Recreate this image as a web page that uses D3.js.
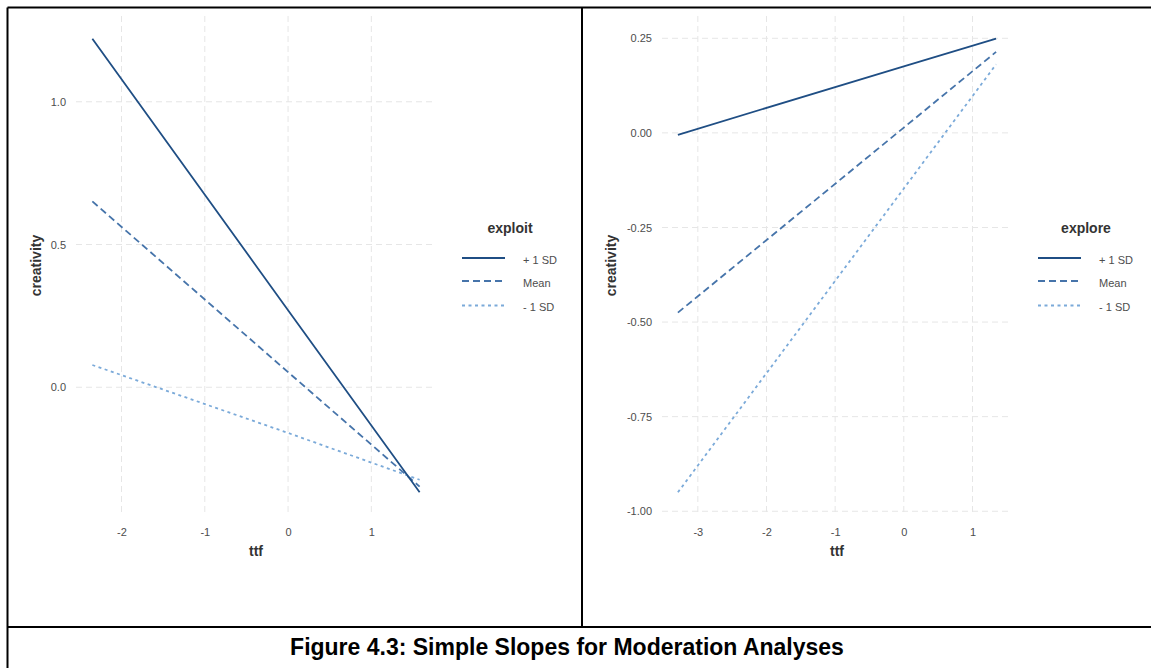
<!DOCTYPE html>
<html>
<head>
<meta charset="utf-8">
<script src="https://cdn.jsdelivr.net/npm/d3@7"></script>
<style>
  html, body { margin: 0; padding: 0; background: #ffffff; }
  svg { display: block; }
  text { font-family: "Liberation Sans", Arial, sans-serif; }
</style>
</head>
<body>
<svg id="chart" width="1151" height="668"></svg>
<script>
// ---------------- DATA ----------------
const seriesLabels = ["+ 1 SD", "Mean", "- 1 SD"];

// Left panel: moderator "exploit"
const exploitTtf   = [-2.35, 0, 1.58];
const exploitPlus  = [1.221, 0.270, -0.368];
const exploitMean  = [0.651, 0.053, -0.348];
const exploitMinus = [0.078, -0.160, -0.324];
const exploitXTicks = [-2, -1, 0, 1];
const exploitYTicks = [0.0, 0.5, 1.0];

// Right panel: moderator "explore"
const exploreTtf   = [-3.29, 0, 1.344];
const explorePlus  = [-0.005, 0.176, 0.249];
const exploreMean  = [-0.475, 0.014, 0.214];
const exploreMinus = [-0.950, -0.147, 0.181];
const exploreXTicks = [-3, -2, -1, 0, 1];
const exploreYTicks = [-1.00, -0.75, -0.50, -0.25, 0.00, 0.25];

const captionText = "Figure 4.3: Simple Slopes for Moderation Analyses";

// ---------------- STYLE ----------------
const lineColors = ["#1F4E84", "#4674AA", "#7BAAD9"];
const lineDashes = [null, "7,4", "3,3.5"];
const gridColor = "#E6E6E6";
const tickColor = "#4D4D4D";
const titleColor = "#333333";

const svg = d3.select("#chart");
svg.append("rect").attr("width", 1151).attr("height", 668).attr("fill", "#fff");

function expand(ext) {
  const r = ext[1] - ext[0];
  return [ext[0] - 0.05 * r, ext[1] + 0.05 * r];
}
function hyphenFmt(spec) {
  const f = d3.format(spec);
  return d => f(d).replace("\u2212", "-");
}

function drawPanel(cfg) {
  const { xs, series, xTicks, yTicks, yFmt, left, right, top, bottom,
          legendTitle, legendCx, keyX0, keyX1, labelX, yTitleX } = cfg;
  const allY = series.flat();
  const x = d3.scaleLinear().domain(expand(d3.extent(xs))).range([left, right]);
  const y = d3.scaleLinear().domain(expand(d3.extent(allY))).range([bottom, top]);
  const g = svg.append("g");

  // grid
  g.selectAll(".gx").data(xTicks).join("line")
    .attr("x1", d => x(d)).attr("x2", d => x(d))
    .attr("y1", top).attr("y2", bottom)
    .attr("stroke", gridColor).attr("stroke-width", 1).attr("stroke-dasharray", "6,4");
  g.selectAll(".gy").data(yTicks).join("line")
    .attr("x1", left).attr("x2", right)
    .attr("y1", d => y(d)).attr("y2", d => y(d))
    .attr("stroke", gridColor).attr("stroke-width", 1).attr("stroke-dasharray", "6,4");

  // axes (labels only, via d3 axis)
  const xAxis = d3.axisBottom(x).tickValues(xTicks).tickSize(0).tickPadding(0)
    .tickFormat(hyphenFmt("d"));
  const gx = g.append("g").attr("transform", `translate(0,${bottom + 13})`).call(xAxis);
  gx.select(".domain").remove();
  gx.selectAll("text").attr("fill", tickColor).attr("font-size", 11)
    .attr("font-family", "Liberation Sans, Arial, sans-serif").attr("dy", "0.35em").attr("y", 4);

  const yAxis = d3.axisLeft(y).tickValues(yTicks).tickSize(0).tickPadding(0)
    .tickFormat(hyphenFmt(yFmt));
  const gy = g.append("g").attr("transform", `translate(${left - 10},0)`).call(yAxis);
  gy.select(".domain").remove();
  gy.selectAll("text").attr("fill", tickColor).attr("font-size", 11)
    .attr("font-family", "Liberation Sans, Arial, sans-serif");

  // axis titles
  g.append("text").attr("x", (left + right) / 2).attr("y", bottom + 41)
    .attr("text-anchor", "middle").attr("font-size", 14).attr("font-weight", "bold")
    .attr("fill", titleColor).text("ttf");
  g.append("text")
    .attr("transform", `translate(${yTitleX},${(top + bottom) / 2}) rotate(-90)`)
    .attr("text-anchor", "middle").attr("font-size", 14).attr("font-weight", "bold")
    .attr("fill", titleColor).text("creativity");

  // lines (draw -1 SD first, +1 SD on top)
  const line = d3.line().x(d => x(d[0])).y(d => y(d[1]));
  [2, 1, 0].forEach(i => {
    g.append("path")
      .datum(xs.map((v, k) => [v, series[i][k]]))
      .attr("d", line)
      .attr("fill", "none")
      .attr("stroke", lineColors[i])
      .attr("stroke-width", 1.8)
      .attr("stroke-dasharray", lineDashes[i]);
  });

  // legend
  const lg = svg.append("g");
  lg.append("text").attr("x", legendCx).attr("y", 233)
    .attr("text-anchor", "middle").attr("font-size", 14).attr("font-weight", "bold")
    .attr("fill", titleColor).text(legendTitle);
  const keyY = [258, 281, 305.5];
  seriesLabels.forEach((lab, i) => {
    lg.append("line").attr("x1", keyX0).attr("x2", keyX1)
      .attr("y1", keyY[i]).attr("y2", keyY[i])
      .attr("stroke", lineColors[i]).attr("stroke-width", 2)
      .attr("stroke-dasharray", lineDashes[i]);
    lg.append("text").attr("x", labelX).attr("y", keyY[i] + 2)
      .attr("dy", "0.35em").attr("font-size", 11).attr("fill", tickColor).text(lab);
  });
}

drawPanel({
  xs: exploitTtf, series: [exploitPlus, exploitMean, exploitMinus],
  xTicks: exploitXTicks, yTicks: exploitYTicks, yFmt: ".1f",
  left: 76, right: 436, top: 16, bottom: 515,
  legendTitle: "exploit", legendCx: 510, keyX0: 462, keyX1: 505, labelX: 523, yTitleX: 41
});

drawPanel({
  xs: exploreTtf, series: [explorePlus, exploreMean, exploreMinus],
  xTicks: exploreXTicks, yTicks: exploreYTicks, yFmt: ".2f",
  left: 662, right: 1012, top: 16, bottom: 515,
  legendTitle: "explore", legendCx: 1086, keyX0: 1038, keyX1: 1081, labelX: 1099, yTitleX: 616
});

// table borders
const border = svg.append("g").attr("stroke", "#000").attr("stroke-width", 2).attr("fill", "none");
border.append("line").attr("x1", 7.5).attr("x2", 1151).attr("y1", 7.5).attr("y2", 7.5);
border.append("line").attr("x1", 7.5).attr("x2", 7.5).attr("y1", 7.5).attr("y2", 668);
border.append("line").attr("x1", 582).attr("x2", 582).attr("y1", 7.5).attr("y2", 627);
border.append("line").attr("x1", 7.5).attr("x2", 1151).attr("y1", 627).attr("y2", 627);

// caption
svg.append("text").attr("x", 567).attr("y", 655)
  .attr("text-anchor", "middle").attr("font-size", 23).attr("font-weight", "bold")
  .attr("fill", "#000").text(captionText);
</script>
</body>
</html>
